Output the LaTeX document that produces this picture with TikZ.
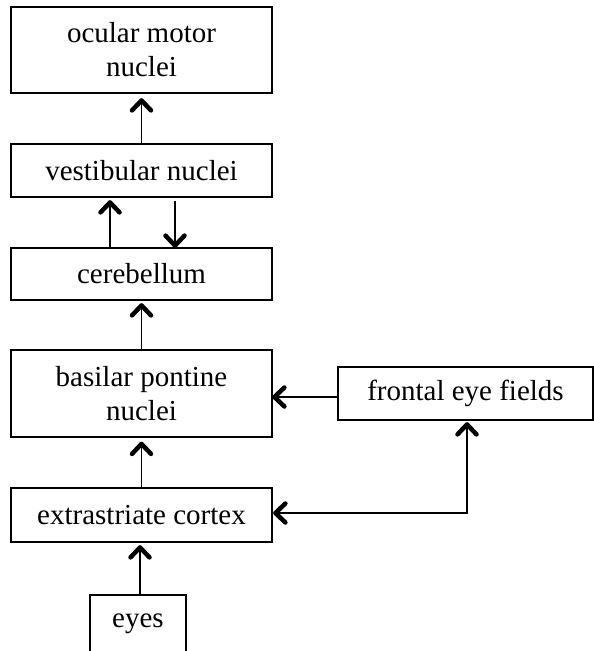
\documentclass[tikz,border=0pt]{standalone}
\usepackage{fontspec}
\setmainfont{Liberation Serif}
% open barb heads drawn as heavy strokes at an apex coordinate
\newcommand\barbup[1]{\draw[headline] ([shift={(-9.5,10)}]#1) -- (#1) -- ([shift={(9.5,10)}]#1);}
\newcommand\barbdown[1]{\draw[headline] ([shift={(-9.5,-10)}]#1) -- (#1) -- ([shift={(9.5,-10)}]#1);}
\newcommand\barbleft[1]{\draw[headline] ([shift={(10,-9.5)}]#1) -- (#1) -- ([shift={(10,9.5)}]#1);}
\begin{document}
\begin{tikzpicture}[x=1pt,y=-1pt,
  box/.style={draw, line width=1.8pt, rectangle, inner sep=0pt, align=center,
    font=\fontsize{29}{34}\selectfont},
  link/.style={line width=1.8pt},
  headline/.style={line width=4.5pt, line cap=round, line join=round}]
\useasboundingbox (0,0) rectangle (594,651);
% stacked boxes of the pathway
\node[box, minimum width=261pt, minimum height=86pt] (ocu) at (141.5,50) {ocular motor\\nuclei};
\node[box, minimum width=261pt, minimum height=53pt] (ves) at (141.5,170.5) {vestibular nuclei};
\node[box, minimum width=261pt, minimum height=52pt] (cer) at (141.5,274) {cerebellum};
\node[box, minimum width=261pt, minimum height=87pt] (bas) at (141.5,393.5) {basilar pontine\\nuclei};
\node[box, minimum width=255pt, minimum height=53pt] (fef) at (465.5,393.5) {frontal eye fields};
\node[box, minimum width=261pt, minimum height=54pt] (ext) at (141.5,515) {extrastriate cortex};
\node[box, minimum width=96pt, minimum height=57pt] (eye) at (138,623.5) {eyes};
% arrow apexes
\coordinate (a1) at ([shift={(0,6.5)}]ocu.south);
\coordinate (a2) at ([shift={(-31.5,4.5)}]ves.south);
\coordinate (a3) at ([shift={(33.5,-1.5)}]cer.north);
\coordinate (a4) at ([shift={(0,4.5)}]cer.south);
\coordinate (a5) at ([shift={(0,6)}]bas.south);
\coordinate (a6) at ([shift={(-1.5,4.5)}]ext.south);
\coordinate (a7) at ([shift={(1.5,3.5)}]bas.east);
\coordinate (a8) at ([shift={(2.5,-2)}]ext.east);
\coordinate (a9) at ([shift={(1.5,3.5)}]fef.south);
% connectors
\draw[link] (ves.north) -- (a1); \barbup{a1}
\draw[link] ([xshift=-31.5pt]cer.north) -- (a2); \barbup{a2}
\draw[link] ([shift={(33.5,3)}]ves.south) -- (a3); \barbdown{a3}
\draw[link] (bas.north) -- (a4); \barbup{a4}
\draw[link] (ext.north) -- (a5); \barbup{a5}
\draw[link] ([xshift=2pt]eye.north) -- (a6); \barbup{a6}
\draw[link] (fef.west |- a7) -- (a7); \barbleft{a7}
\draw[link] (a8) -| (a9); \barbleft{a8} \barbup{a9}
\end{tikzpicture}
\end{document}
